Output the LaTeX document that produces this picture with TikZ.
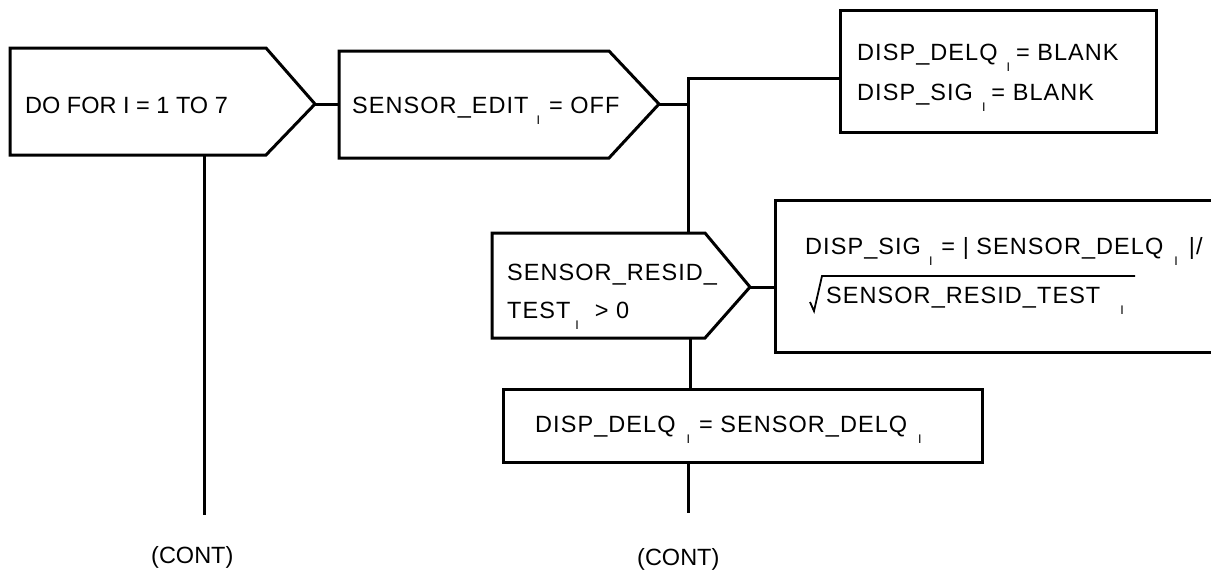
\documentclass[tikz,border=0pt]{standalone}
\usepackage{fontspec}
\setmainfont{Liberation Sans}
\newfontfamily\spfont[LetterSpace=4.5]{Liberation Sans}
\newcommand\subIraw{\raisebox{-11pt}{\fontsize{12.5}{12.5}\selectfont I}}
\newcommand\subI[2]{\hspace{#1pt}\subIraw\hspace{#2pt}}
\begin{document}
\begin{tikzpicture}[x=1pt,y=-1pt,
  shp/.style={line width=3pt, line join=miter},
  conn/.style={line width=3pt},
  txt/.style={anchor=base west, inner sep=0pt, font=\fontsize{23.5}{23.5}\selectfont},
  stxt/.style={anchor=base west, inner sep=0pt, font=\fontsize{23.5}{23.5}\selectfont\spfont}]
\useasboundingbox (0,0) rectangle (1211,573);
% shapes
\draw[shp] (10,48) -- (266,48) -- (315,104) -- (266,155) -- (10,155) -- cycle;
\coordinate (b1tip) at (315,104);
\coordinate (b1bot) at (204,155);
\draw[shp] (339,51) -- (609,51) -- (659,104) -- (609,158) -- (339,158) -- cycle;
\coordinate (b2in) at (339,104);
\coordinate (b2tip) at (659,104);
\draw[shp] (840,10) rectangle (1156,132);
\coordinate (b3in) at (840,78);
\draw[shp] (492,233) -- (705,233) -- (750,287) -- (705,338) -- (492,338) -- cycle;
\coordinate (dtop) at (688,233);
\coordinate (dtip) at (750,287);
\coordinate (dbot) at (690,338);
\draw[shp] (1213,200) -- (775,200) -- (775,352) -- (1213,352);
\coordinate (b4in) at (775,287);
\draw[shp] (503,389) rectangle (982,462);
\coordinate (b5top) at (690,389);
\coordinate (b5bot) at (688,462);
% junction
\coordinate (j) at (688,104);
\coordinate (jt) at (688,78);
\coordinate (e1) at (204,515);
\coordinate (e2) at (688,513);
% connectors
\draw[conn] (b1tip) -- (b2in);
\draw[conn] (b2tip) -- (j);
\draw[conn] (b3in) -- (jt) -- (dtop);
\draw[conn] (dtip) -- (b4in);
\draw[conn] (dbot) -- (b5top);
\draw[conn] (b5bot) -- (e2);
\draw[conn] (b1bot) -- (e1);
% texts
\node[txt] (t1) at (25,113) {DO FOR I = 1 TO 7};
\node[stxt] (t2) at (352,113) {SENSOR\_EDIT\subI{8}{9}= OFF};
\node[stxt] (t3a) at (857,60) {DISP\_DELQ\subI{9}{6}= BLANK};
\node[stxt] (t3b) at (857,100) {DISP\_SIG\subI{9}{6}= BLANK};
\node[stxt] (t4a) at (507,280) {SENSOR\_RESID\_};
\node[stxt] (t4b) at (507,318) {TEST\subI{5}{16}> 0};
\node[stxt] (t5a) at (805,254) {DISP\_SIG\subI{8}{9}= | SENSOR\_DELQ\subI{11}{11}|/};
\node[stxt] (t5b) at (826,303) {SENSOR\_RESID\_TEST\subI{20}{0}};
\draw[line width=1.8pt] (810,302) -- (814,311) -- (822,276) -- (1135,276);
\node[stxt] (t6) at (535,432) {DISP\_DELQ\subI{11}{9}= SENSOR\_DELQ\subI{11}{0}};
\node[txt] (c1) at (151,563) {(CONT)};
\node[txt] (c2) at (637,565) {(CONT)};
\end{tikzpicture}
\end{document}
